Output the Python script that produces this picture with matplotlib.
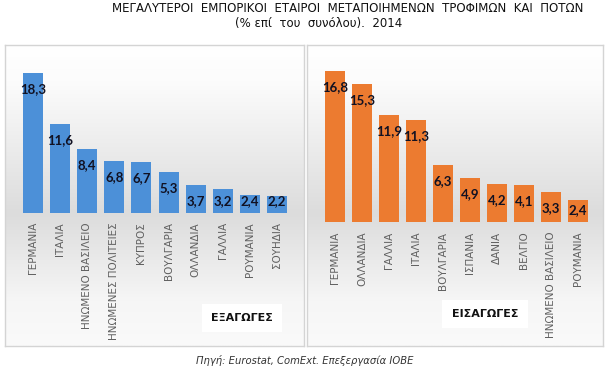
import numpy as np
import matplotlib
matplotlib.use("Agg")
import matplotlib.pyplot as plt

# ---- data ----
exp_countries = ["ΓΕΡΜΑΝΙΑ", "ΙΤΑΛΙΑ", "ΗΝΩΜΕΝΟ ΒΑΣΙΛΕΙΟ", "ΗΝΩΜΕΝΕΣ ΠΟΛΙΤΕΙΕΣ", "ΚΥΠΡΟΣ",
                 "ΒΟΥΛΓΑΡΙΑ", "ΟΛΛΑΝΔΙΑ", "ΓΑΛΛΙΑ", "ΡΟΥΜΑΝΙΑ", "ΣΟΥΗΔΙΑ"]
exp_values = [18.3, 11.6, 8.4, 6.8, 6.7, 5.3, 3.7, 3.2, 2.4, 2.2]
imp_countries = ["ΓΕΡΜΑΝΙΑ", "ΟΛΛΑΝΔΙΑ", "ΓΑΛΛΙΑ", "ΙΤΑΛΙΑ", "ΒΟΥΛΓΑΡΙΑ",
                 "ΙΣΠΑΝΙΑ", "ΔΑΝΙΑ", "ΒΕΛΓΙΟ", "ΗΝΩΜΕΝΟ ΒΑΣΙΛΕΙΟ", "ΡΟΥΜΑΝΙΑ"]
imp_values = [16.8, 15.3, 11.9, 11.3, 6.3, 4.9, 4.2, 4.1, 3.3, 2.4]
title_line1 = "ΜΕΓΑΛΥΤΕΡΟΙ  ΕΜΠΟΡΙΚΟΙ  ΕΤΑΙΡΟΙ  ΜΕΤΑΠΟΙΗΜΕΝΩΝ  ΤΡΟΦΙΜΩΝ  ΚΑΙ  ΠΟΤΩΝ"
title_line2 = "(% επί  του  συνόλου).  2014"
source_text = "Πηγή: Eurostat, ComExt. Επεξεργασία ΙΟΒΕ"
exp_label = "ΕΞΑΓΩΓΕΣ"
imp_label = "ΕΙΣΑΓΩΓΕΣ"

W, H, DPI = 607, 371, 100
fig = plt.figure(figsize=(W / DPI, H / DPI), dpi=DPI)
fig.patch.set_facecolor("white")

def box(left, top, width, height):
    return [left / W, (H - top - height) / H, width / W, height / H]

def fx(x):
    return x / W

def fy(y):
    return (H - y) / H

# ---- panel backgrounds ----
def panel(left, top, right, bottom):
    ax = fig.add_axes(box(left, top, right - left, bottom - top))
    ax.set_zorder(0)
    pos = np.linspace(0, 1, 300)
    vals = np.interp(pos, [0, 0.12, 0.56, 0.85, 1.0], [255, 252, 220, 246, 250]) / 255.0
    img = np.dstack([vals, vals, vals])[0][:, None, :].repeat(2, axis=1)
    ax.imshow(img, extent=[0, 1, 0, 1], aspect="auto", origin="upper")
    ax.set_xlim(0, 1)
    ax.set_ylim(0, 1)
    ax.set_xticks([])
    ax.set_yticks([])
    for s in ax.spines.values():
        s.set_color("#D4D4D4")
        s.set_linewidth(1.0)
    return ax

pl = panel(5, 45, 304, 346)
pr = panel(307, 45, 603, 346)

# ---- legend-like boxes ----
fig.text(fx(242), fy(318), exp_label, ha="center", va="center", fontsize=8, fontweight="bold",
         color="#111111", family="DejaVu Sans", zorder=1,
         bbox=dict(boxstyle="square,pad=0.85", fc="white", ec="none"))
fig.text(fx(485), fy(314), imp_label, ha="center", va="center", fontsize=8, fontweight="bold",
         color="#111111", family="DejaVu Sans", zorder=1,
         bbox=dict(boxstyle="square,pad=0.85", fc="white", ec="none"))

# ---- bar axes ----
def bars(rect, cats, vals, ymax, color, pad):
    ax = fig.add_axes(rect)
    ax.set_zorder(2)
    ax.patch.set_alpha(0)
    x = np.arange(len(cats))
    ax.bar(x, vals, width=0.74, color=color, zorder=2)
    ax.set_xlim(-0.5, len(cats) - 0.5)
    ax.set_ylim(0, ymax)
    ax.set_yticks([])
    ax.set_xticks(x)
    ax.set_xticklabels(cats, rotation=90, fontsize=7.5, color="#606060", family="DejaVu Sans",
                       va="top", ha="center")
    ax.tick_params(axis="x", length=0, pad=pad)
    for s in ax.spines.values():
        s.set_visible(False)
    hpx = rect[3] * H
    ppu = hpx / ymax
    for xi, v in zip(x, vals):
        off = max(v * ppu - 16, 12)
        ax.annotate(f"{v:.1f}".replace(".", ","), xy=(xi, 0), xytext=(0, off),
                    textcoords="offset pixels", ha="center", va="center",
                    fontsize=9.5, fontweight="bold", color="#111122",
                    family=["Lato", "DejaVu Sans"], zorder=3)
    return ax

bars(box(19.5, 213 - 153, 271, 153), exp_countries, exp_values, 20.0, "#4C90D8", 6.5)
bars(box(321.5, 222 - 162, 270, 162), imp_countries, imp_values, 18.0, "#EC7B30", 7.0)

# ---- titles ----
fig.text(fx(348), fy(8), title_line1, ha="center", va="center", fontsize=8.5, color="#111111",
         family="DejaVu Sans")
fig.text(fx(319), fy(23), title_line2, ha="center", va="center", fontsize=8.5, color="#111111",
         family="DejaVu Sans")
fig.text(fx(305), fy(361), source_text, ha="center", va="center", fontsize=7.2, style="italic",
         color="#333333", family="DejaVu Sans")

fig.savefig("out.png", dpi=DPI)
